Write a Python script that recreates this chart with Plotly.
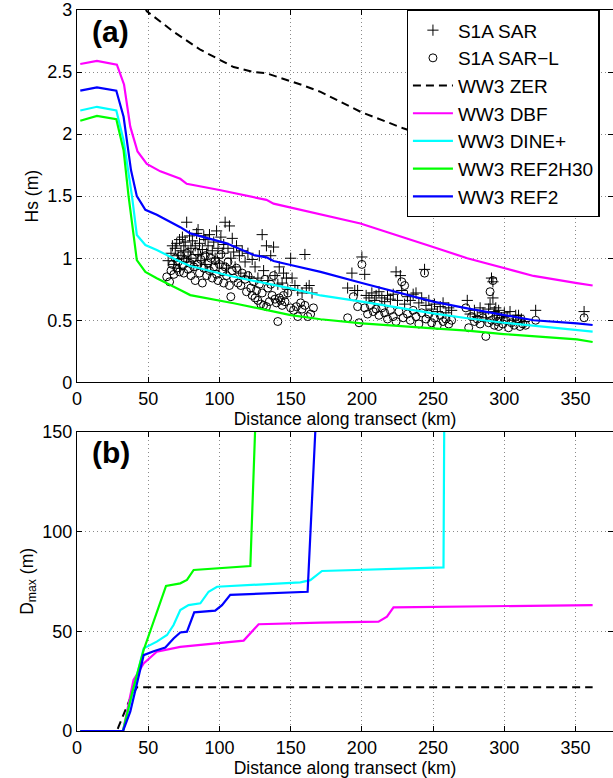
import plotly.graph_objects as go
from plotly.subplots import make_subplots

# ---------------- Panel (a): significant wave height ----------------
zer_x = [2.3, 14, 28, 38, 49, 67.8, 86.6, 110, 124, 133, 157, 171, 199, 229, 260, 300, 340, 362]
zer_hs = [3.6, 3.65, 3.6, 3.25, 2.99, 2.825, 2.68, 2.54, 2.50, 2.49, 2.40, 2.34, 2.18, 2.047, 1.93, 1.80, 1.68, 1.62]

dbf_x = [2.3, 14, 28, 33, 37.4, 42.5, 49, 58.5, 72.5, 77, 100, 133, 138, 157, 199, 250, 274, 306.5, 320.5, 351, 362]
dbf_hs = [2.565, 2.59, 2.56, 2.40, 2.06, 1.86, 1.76, 1.70, 1.64, 1.60, 1.55, 1.47, 1.44, 1.39, 1.28, 1.09, 1.0, 0.90, 0.857, 0.80, 0.78]

dine_x = [2.3, 14, 27.6, 32.7, 38.6, 42, 48, 56, 72.5, 79.5, 110, 133, 150, 171, 200, 250, 274, 299.5, 351, 362]
dine_hs = [2.19, 2.22, 2.19, 1.95, 1.50, 1.187, 1.106, 1.066, 0.972, 0.937, 0.851, 0.80, 0.757, 0.70, 0.65, 0.556, 0.516, 0.48, 0.42, 0.408]

h30_x = [2.3, 14, 27.6, 32.7, 36.2, 42, 48, 56, 72.5, 79.5, 110, 133, 150, 171, 200, 250, 274, 299.5, 351, 362]
h30_hs = [2.108, 2.146, 2.12, 1.87, 1.50, 0.985, 0.89, 0.838, 0.744, 0.703, 0.637, 0.583, 0.542, 0.508, 0.475, 0.435, 0.416, 0.389, 0.346, 0.325]

ref2_x = [2.3, 14, 27.6, 32.7, 37.9, 42, 48, 56, 72.5, 79.5, 105, 124, 133, 138, 150, 171, 200, 250, 274, 299.5, 320.5, 351, 362]
ref2_hs = [2.35, 2.377, 2.35, 2.14, 1.71, 1.50, 1.39, 1.35, 1.25, 1.20, 1.12, 1.026, 1.007, 0.977, 0.945, 0.89, 0.80, 0.65, 0.596, 0.542, 0.50, 0.475, 0.462]

# S1A SAR (+)
sar_x = [64, 66, 67, 68, 69, 70, 71, 72, 72, 73, 74, 75, 75, 76, 77, 77, 78, 79, 80, 80,
         81, 82, 83, 84, 85, 85, 86, 87, 88, 89, 90, 90, 91, 92, 93, 94, 95, 96, 97, 98,
         99, 100, 101, 102, 103, 104, 105, 106, 107, 108, 109, 110, 111, 112, 114, 115, 116, 118, 120, 121,
         123, 125, 127, 128, 130, 131, 133, 134, 136, 138, 139, 141, 142, 144, 145, 147, 148, 150, 151, 153,
         155, 158, 160, 161, 163, 165,
         190, 193, 195, 197, 200, 202, 203, 205, 207, 209, 210, 212, 214, 216, 218, 220, 222, 224, 225, 227,
         228, 230, 232, 234, 236, 238, 240, 242, 244, 245, 247, 249, 251, 253, 255, 257, 259, 261, 263,
         274, 276, 279, 281, 283, 285, 287, 289, 290, 291, 292, 292, 293, 294, 295, 296, 298, 300, 302, 304,
         306, 308, 310, 312, 314, 322, 356]
sar_hs = [0.98, 1.04, 1.10, 0.95, 1.08, 1.12, 1.02, 1.15, 0.92, 1.06, 1.17, 1.00, 1.10, 1.13, 1.29, 0.97, 1.05, 1.18, 1.08, 1.00,
          1.14, 0.94, 1.10, 1.20, 1.23, 1.03, 1.12, 0.98, 1.07, 1.18, 1.15, 0.95, 1.04, 1.10, 1.19, 0.90, 1.06, 1.13, 1.00, 1.22,
          1.08, 0.96, 1.17, 1.04, 1.11, 1.29, 0.92, 1.08, 1.26, 1.00, 1.16, 1.05, 0.93, 1.10, 1.02, 0.88, 1.06, 0.97, 1.04, 0.85,
          0.99, 0.93, 0.84, 1.02, 1.19, 0.90, 1.10, 0.82, 1.02, 1.09, 0.86, 0.79, 0.93, 0.80, 0.88, 0.84, 0.75, 1.00, 0.84, 0.78,
          0.74, 0.72, 1.03, 0.76, 0.78, 0.72,
          0.76, 0.88, 0.74, 0.74, 1.01, 0.87, 0.70, 0.68, 0.72, 0.66, 0.70, 0.73, 0.68, 0.65, 0.70, 0.67, 0.71, 0.89, 0.66, 0.86,
          0.74, 0.63, 0.69, 0.66, 0.71, 0.72, 0.64, 0.68, 0.91, 0.62, 0.66, 0.59, 0.63, 0.57, 0.61, 0.64, 0.56, 0.60, 0.58,
          0.66, 0.55, 0.58, 0.53, 0.60, 0.56, 0.52, 0.59, 0.63, 0.84, 0.81, 0.68, 0.57, 0.60, 0.54, 0.58, 0.52, 0.56, 0.53, 0.57,
          0.50, 0.54, 0.54, 0.51, 0.49, 0.58, 0.57]

# S1A SAR-L (o)
sarl_x = [63, 65, 66, 67, 68, 69, 70, 71, 72, 73, 74, 75, 76, 77, 78, 79, 80, 81, 82, 83,
          84, 85, 86, 87, 88, 89, 90, 91, 92, 93, 94, 95, 96, 97, 98, 99, 100, 101, 102, 103,
          104, 105, 106, 107, 108, 109, 110, 112, 113, 115, 116, 118, 119, 120, 122, 123, 124, 125, 126, 127,
          128, 129, 130, 131, 132, 133, 134, 135, 136, 137, 138, 139, 140, 141, 142, 143, 144, 145, 146, 148,
          150, 152, 154, 155, 157, 158, 160, 162, 164, 166,
          190, 194, 197, 198, 200, 202, 204, 206, 208, 210, 212, 214, 216, 218, 220, 222, 224, 226, 228, 229,
          230, 232, 234, 236, 238, 240, 242, 244, 245, 247, 249, 251, 253, 255, 257, 259, 261, 263,
          273, 275, 277, 279, 281, 283, 285, 287, 289, 290, 291, 292, 293, 294, 295, 296, 297, 299, 301, 303,
          305, 307, 309, 311, 313, 315, 322, 356]
sarl_hs = [0.85, 0.81, 0.90, 0.95, 0.87, 1.00, 0.92, 0.97, 0.89, 1.02, 0.94, 0.88, 0.99, 1.04, 0.91, 0.96, 0.86, 1.00, 0.93, 0.82,
           1.05, 0.95, 0.88, 0.99, 0.80, 0.92, 1.02, 0.86, 0.96, 0.90, 1.00, 0.84, 0.93, 0.98, 0.87, 0.82, 0.95, 1.03, 0.89, 0.80,
           0.93, 0.86, 0.97, 0.78, 0.69, 0.90, 0.84, 0.92, 0.80, 0.78, 0.88, 0.83, 0.73, 0.86, 0.76, 0.70, 0.81, 0.68, 0.74, 0.66,
           0.79, 0.63, 0.72, 0.62, 0.83, 0.61, 0.76, 0.65, 0.79, 0.70, 0.86, 0.67, 0.64, 0.49, 0.68, 0.66, 0.62, 0.70, 0.65, 0.72,
           0.60, 0.58, 0.61, 0.53, 0.64, 0.59, 0.62, 0.53, 0.55, 0.60,
           0.52, 0.69, 0.61, 0.48, 0.95, 0.60, 0.55, 0.62, 0.57, 0.59, 0.54, 0.60, 0.56, 0.51, 0.58, 0.53, 0.49, 0.57, 0.81, 0.52,
           0.78, 0.55, 0.50, 0.58, 0.53, 0.47, 0.56, 0.88, 0.51, 0.55, 0.48, 0.52, 0.46, 0.54, 0.49, 0.51, 0.47, 0.50,
           0.60, 0.44, 0.53, 0.49, 0.51, 0.47, 0.52, 0.37, 0.48, 0.73, 0.50, 0.82, 0.46, 0.53, 0.49, 0.45, 0.51, 0.47, 0.50, 0.44,
           0.48, 0.46, 0.51, 0.45, 0.47, 0.46, 0.50, 0.52]

# ---------------- Panel (b): maximum floe diameter ----------------
zer_dx = [2.3, 28, 29.2, 37.4, 42.1, 362]
zer_d = [0, 0, 2.2, 16.4, 21.9, 21.9]

dbf_dx = [2.3, 32.3, 39.7, 46.8, 56, 72.5, 117, 127.5, 171, 211.7, 217.6, 222.2, 362]
dbf_d = [0, 0, 25.6, 33.9, 39.7, 42.2, 45.3, 53.5, 54.3, 54.8, 57.3, 62, 63.1]

dine_dx = [2.3, 32.3, 46.8, 56, 63.2, 67.8, 72.5, 78.3, 86.6, 92.4, 98.3, 156.8, 163.8, 172, 257.3, 257.9]
dine_d = [0, 0, 41.4, 44.8, 48.1, 53.1, 60.6, 63.1, 64, 69.8, 72.3, 74.5, 75.6, 80.2, 82, 165]

h30_dx = [2.3, 32.3, 39, 46.8, 62.5, 72.5, 77.2, 81.9, 121.7, 125.5]
h30_d = [0, 0, 20, 40.6, 72.7, 74, 75.7, 80.7, 82.7, 160]

ref2_dx = [2.3, 32.3, 37.4, 46.8, 53.8, 62, 67.8, 72.5, 77.2, 82.3, 97, 101.8, 107.6, 161.9, 168.5]
ref2_d = [0, 0, 9.7, 38, 40, 41.8, 46.4, 49.4, 49.8, 59.5, 60.3, 63.1, 68.2, 69.8, 168]

x_ticks = [0, 50, 100, 150, 200, 250, 300, 350]
hs_ticks = [0, 0.5, 1, 1.5, 2, 2.5, 3]
hs_ticklabels = ["0", "0.5", "1", "1.5", "2", "2.5", "3"]
d_ticks = [0, 50, 100, 150]

MAG, CYA, GRN, BLU = "#FF00FF", "#00FFFF", "#00FF00", "#0000FF"
FONT = "Liberation Sans, Arial, Helvetica, sans-serif"

fig = make_subplots(rows=2, cols=1, vertical_spacing=0.07)

lw = 2.2
fig.add_trace(go.Scatter(x=sar_x, y=sar_hs, mode="markers", name="S1A SAR",
                         marker=dict(symbol="cross-thin-open", size=8, color="black",
                                     line=dict(width=1, color="black"))), row=1, col=1)
fig.add_trace(go.Scatter(x=sarl_x, y=sarl_hs, mode="markers", name="S1A SAR\u2212L",
                         marker=dict(symbol="circle-open", size=8, color="black",
                                     line=dict(width=1, color="black"))), row=1, col=1)
fig.add_trace(go.Scatter(x=zer_x, y=zer_hs, mode="lines", name="WW3 ZER",
                         line=dict(color="black", width=2, dash="8px,5px")), row=1, col=1)
fig.add_trace(go.Scatter(x=dbf_x, y=dbf_hs, mode="lines", name="WW3 DBF",
                         line=dict(color=MAG, width=lw)), row=1, col=1)
fig.add_trace(go.Scatter(x=dine_x, y=dine_hs, mode="lines", name="WW3 DINE+",
                         line=dict(color=CYA, width=lw)), row=1, col=1)
fig.add_trace(go.Scatter(x=h30_x, y=h30_hs, mode="lines", name="WW3 REF2H30",
                         line=dict(color=GRN, width=lw)), row=1, col=1)
fig.add_trace(go.Scatter(x=ref2_x, y=ref2_hs, mode="lines", name="WW3 REF2",
                         line=dict(color=BLU, width=lw)), row=1, col=1)

fig.add_trace(go.Scatter(x=zer_dx, y=zer_d, mode="lines", showlegend=False,
                         line=dict(color="black", width=2, dash="8px,5px")), row=2, col=1)
fig.add_trace(go.Scatter(x=dbf_dx, y=dbf_d, mode="lines", showlegend=False,
                         line=dict(color=MAG, width=lw)), row=2, col=1)
fig.add_trace(go.Scatter(x=dine_dx, y=dine_d, mode="lines", showlegend=False,
                         line=dict(color=CYA, width=lw)), row=2, col=1)
fig.add_trace(go.Scatter(x=h30_dx, y=h30_d, mode="lines", showlegend=False,
                         line=dict(color=GRN, width=lw)), row=2, col=1)
fig.add_trace(go.Scatter(x=ref2_dx, y=ref2_d, mode="lines", showlegend=False,
                         line=dict(color=BLU, width=lw)), row=2, col=1)

axis_common = dict(showline=True, linecolor="black", linewidth=1.3, mirror="ticks",
                   ticks="inside", ticklen=5, tickcolor="black", tickwidth=1,
                   showgrid=True, gridcolor="#8a8a8a", griddash="1px,3px", gridwidth=1,
                   zeroline=False, tickfont=dict(size=18, color="black", family=FONT),
                   title_font=dict(size=17.5, color="black", family=FONT))

fig.update_xaxes(**axis_common, range=[0, 376.3], tickvals=x_ticks,
                 title_text="Distance along transect (km)", title_standoff=2)
fig.update_yaxes(**axis_common)
fig.update_yaxes(range=[0, 3], tickvals=hs_ticks, ticktext=hs_ticklabels,
                 title_text="Hs (m)", title_standoff=4, row=1, col=1)
fig.update_yaxes(range=[0, 150], tickvals=d_ticks,
                 title_text="D<sub>max</sub> (m)", title_standoff=4, row=2, col=1)

fig.update_layout(
    xaxis=dict(domain=[0, 1]), xaxis2=dict(domain=[0, 1]),
    yaxis=dict(domain=[0.4836, 1.0]), yaxis2=dict(domain=[0.0, 0.4151]),
)

fig.add_annotation(text="<b>(a)</b>", xref="x domain", yref="y domain", x=0.024, y=0.942,
                   xanchor="left", yanchor="middle", showarrow=False,
                   font=dict(size=30, family=FONT, color="black"))
fig.add_annotation(text="<b>(b)</b>", xref="x2 domain", yref="y2 domain", x=0.024, y=0.932,
                   xanchor="left", yanchor="middle", showarrow=False,
                   font=dict(size=30, family=FONT, color="black"))

fig.update_layout(
    width=613, height=778,
    margin=dict(l=77, r=0, t=10, b=47),
    paper_bgcolor="white", plot_bgcolor="white",
    font=dict(family=FONT, color="black"),
    legend=dict(x=0.615, y=1.0, xanchor="left", yanchor="top",
                bgcolor="white", bordercolor="black", borderwidth=1.3,
                font=dict(size=19, family=FONT, color="black"),
                itemwidth=40, tracegroupgap=0),
    showlegend=True,
)

fig.write_html("out.html", config={"displayModeBar": False},
               post_script="document.body.style.margin='0';")
